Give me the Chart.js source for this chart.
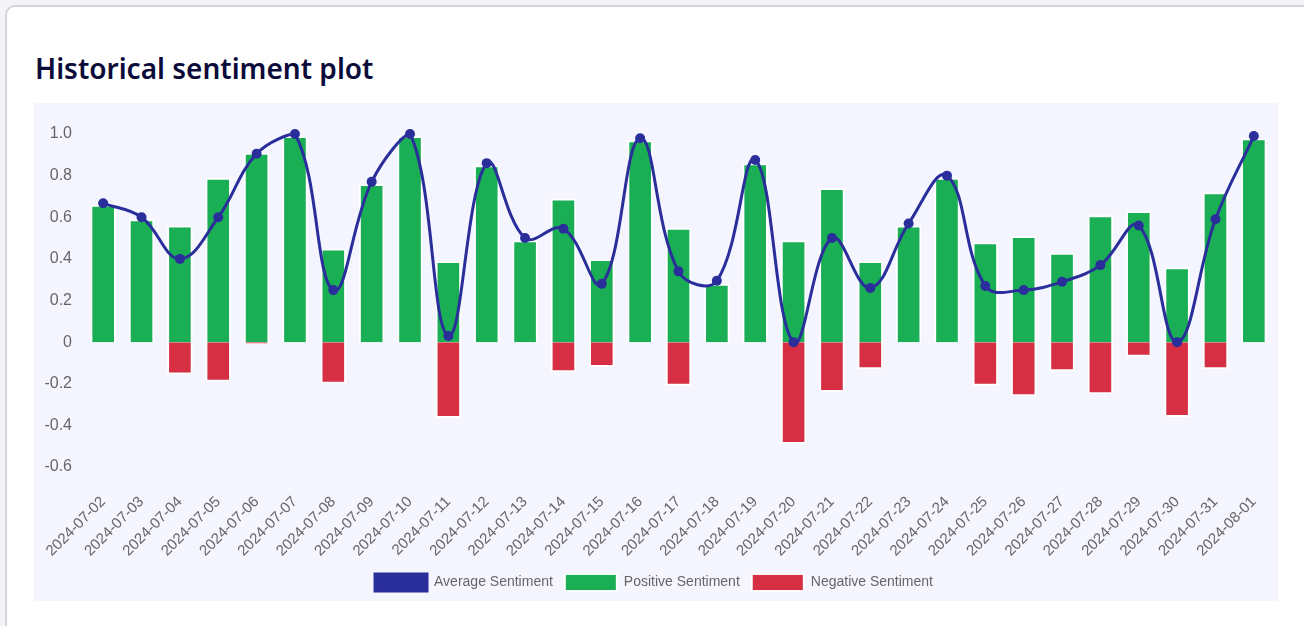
<!DOCTYPE html>
<html>
<head>
<meta charset="utf-8">
<script src="https://cdn.jsdelivr.net/npm/chart.js@4.4.1/dist/chart.umd.min.js"></script>
<style>
  html, body { margin: 0; padding: 0; background: #f4f4f8; width: 1304px; height: 626px; overflow: hidden; }
  .card { position: absolute; left: 5px; top: 5px; width: 1330px; height: 700px; background: #ffffff;
          border: 2px solid #d4d4dc; border-radius: 10px; box-sizing: border-box; }
  h2 { position: absolute; left: 35px; top: 48px; margin: 0; font-family: "Noto Sans", sans-serif; font-weight: 600;
       font-size: 28px; line-height: 40px; color: #0b0b3a; }
  .wrap { position: absolute; left: 34px; top: 103px; width: 1244px; height: 498px; background: #f4f5fe; }
</style>
</head>
<body>
<div class="card"></div>
<h2>Historical sentiment plot</h2>
<div class="wrap"><canvas id="c"></canvas></div>
<script>
const categories = ["2024-07-02","2024-07-03","2024-07-04","2024-07-05","2024-07-06","2024-07-07","2024-07-08","2024-07-09","2024-07-10","2024-07-11","2024-07-12","2024-07-13","2024-07-14","2024-07-15","2024-07-16","2024-07-17","2024-07-18","2024-07-19","2024-07-20","2024-07-21","2024-07-22","2024-07-23","2024-07-24","2024-07-25","2024-07-26","2024-07-27","2024-07-28","2024-07-29","2024-07-30","2024-07-31","2024-08-01"];
const averageSentiment = [0.667,0.60,0.40,0.60,0.905,1.0,0.25,0.77,1.0,0.03,0.86,0.50,0.545,0.28,0.98,0.34,0.295,0.875,0.0,0.50,0.26,0.57,0.80,0.27,0.25,0.29,0.37,0.56,0.0,0.59,0.99];
const positiveSentiment = [0.66,0.59,0.56,0.79,0.91,0.99,0.45,0.76,0.99,0.39,0.85,0.49,0.69,0.40,0.97,0.55,0.28,0.86,0.49,0.74,0.39,0.56,0.79,0.48,0.51,0.43,0.61,0.63,0.36,0.72,0.98];
const negativeSentiment = [0,0,-0.155,-0.19,-0.01,0,-0.20,0,0,-0.365,0,0,-0.145,-0.12,0,-0.21,0,0,-0.49,-0.24,-0.13,0,0,-0.21,-0.26,-0.14,-0.25,-0.07,-0.36,-0.13,0];
const yTicks = [-0.6,-0.4,-0.2,0,0.2,0.4,0.6,0.8,1.0];

const BLUE = '#2a2e9b', GREEN = '#1baf55', RED = '#d62e42';
const sans = "'Liberation Sans', Arial, sans-serif";

new Chart(document.getElementById('c'), {
  data: {
    labels: categories,
    datasets: [
      { type: 'line', label: 'Average Sentiment', data: averageSentiment, order: 0,
        borderColor: BLUE, backgroundColor: BLUE, borderWidth: 3, tension: 0.4,
        pointRadius: 5, pointHoverRadius: 5, pointBackgroundColor: BLUE, pointBorderWidth: 0, clip: false },
      { type: 'bar', label: 'Positive Sentiment', data: positiveSentiment, order: 1, grouped: false,
        backgroundColor: GREEN, borderColor: 'rgba(255,255,255,0.95)', borderWidth: 2,
        barPercentage: 0.82, categoryPercentage: 0.815 },
      { type: 'bar', label: 'Negative Sentiment', data: negativeSentiment, order: 2, grouped: false,
        backgroundColor: RED, borderColor: 'rgba(255,255,255,0.95)', borderWidth: 2,
        barPercentage: 0.82, categoryPercentage: 0.815 }
    ]
  },
  options: {
    responsive: true, maintainAspectRatio: false, animation: false,
    layout: { padding: { top: 31, left: 0, right: 4, bottom: 0 } },
    plugins: {
      legend: { position: 'bottom',
        labels: { boxWidth: 52, boxHeight: 17, color: '#666', padding: 12,
                  font: { family: sans, size: 14 } } },
      tooltip: { enabled: false }
    },
    scales: {
      x: { offset: true, grid: { display: false }, border: { display: false },
           afterFit: (s) => { s.paddingLeft = 0; s.paddingRight = 0; s.height = 95; },
           ticks: { color: '#666', minRotation: 45, maxRotation: 45, padding: 18, autoSkip: false,
                    font: { family: sans, size: 15 } } },
      y: { min: -0.6, max: 1.0, grid: { display: false }, border: { display: false },
           afterBuildTicks: (s) => { s.ticks = yTicks.map(v => ({ value: v })); },
           afterFit: (s) => { s.width = 50; },
           ticks: { color: '#666', padding: 4, font: { family: sans, size: 16 },
                    callback: (v) => Math.abs(v) < 1e-9 ? '0' : Number(v).toFixed(1) } }
    }
  }
});
</script>
</body>
</html>
